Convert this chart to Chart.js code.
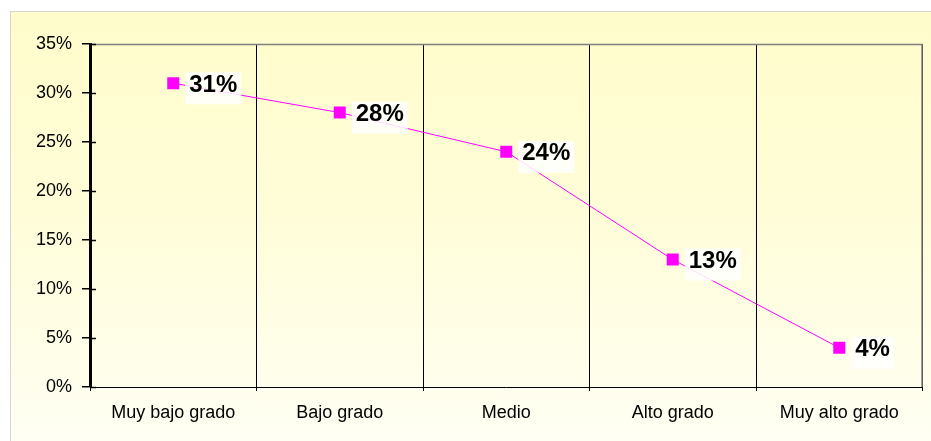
<!DOCTYPE html>
<html>
<head>
<meta charset="utf-8">
<script src="https://cdn.jsdelivr.net/npm/chart.js@4/dist/chart.umd.min.js"></script>
<style>
  html, body { margin: 0; padding: 0; background: #ffffff; overflow: hidden; }
  #panel {
    position: absolute; left: 10px; top: 11px; width: 940px; height: 450px;
    border-left: 1px solid #d6d6d6; border-top: 1px solid #d6d6d6;
    background: linear-gradient(to bottom, #fffccb 0%, #fffdd8 45%, #fffff6 100%);
  }
  #chart { position: absolute; left: 0; top: 0; }
</style>
</head>
<body>
<div id="panel"></div>
<canvas id="chart" width="931" height="441"></canvas>
<script>
// Grado de adopción: porcentaje de respuestas por categoría
const categories = ['Muy bajo grado', 'Bajo grado', 'Medio', 'Alto grado', 'Muy alto grado'];
const percentages = [31, 28, 24, 13, 4];
const yTicks = [0, 5, 10, 15, 20, 25, 30, 35];

const FONT = '"Liberation Sans", Arial, sans-serif';

// Frame on top/right of the plot area, short inner ticks on the value axis
const framePlugin = {
  id: 'frame',
  afterDraw(chart) {
    const { ctx, chartArea: a } = chart;
    const y = chart.scales.y;
    ctx.save();
    ctx.strokeStyle = '#808080';
    ctx.lineWidth = 1.5;
    ctx.beginPath();
    ctx.moveTo(a.left, a.top + 0.5);
    ctx.lineTo(a.right - 0.5, a.top + 0.5);
    ctx.lineTo(a.right - 0.5, a.bottom);
    ctx.stroke();
    ctx.strokeStyle = '#000';
    ctx.lineWidth = 1.5;
    yTicks.forEach(v => {
      const py = Math.round(y.getPixelForValue(v)) + 0.5;
      ctx.beginPath();
      ctx.moveTo(a.left, py);
      ctx.lineTo(a.left + 6, py);
      ctx.stroke();
    });
    ctx.restore();
  }
};

// Value labels to the right of each marker, on a light box
const valueLabels = {
  id: 'valueLabels',
  afterDatasetsDraw(chart) {
    const { ctx } = chart;
    const meta = chart.getDatasetMeta(0);
    ctx.save();
    ctx.font = 'bold 24px ' + FONT;
    ctx.textBaseline = 'middle';
    ctx.textAlign = 'left';
    meta.data.forEach((pt, i) => {
      const txt = percentages[i] + '%';
      const w = ctx.measureText(txt).width;
      const bx = pt.x + 12, by = pt.y - 11;
      ctx.fillStyle = 'rgba(255,255,255,0.85)';
      ctx.fillRect(bx, by, w + 8, 32);
      ctx.fillStyle = '#000';
      ctx.fillText(txt, bx + 4, pt.y + 2);
    });
    ctx.restore();
  }
};

new Chart(document.getElementById('chart'), {
  type: 'line',
  data: {
    labels: categories,
    datasets: [{
      data: percentages,
      borderColor: '#ff00ff',
      borderWidth: 1,
      backgroundColor: '#ff00ff',
      pointStyle: 'rect',
      pointRadius: 8.5,
      pointBorderWidth: 0,
      pointBackgroundColor: '#ff00ff',
      fill: false,
      tension: 0
    }]
  },
  options: {
    responsive: false,
    animation: false,
    layout: { padding: { left: 0, top: 44, right: 7, bottom: 0 } },
    plugins: { legend: { display: false }, tooltip: { enabled: false } },
    scales: {
      x: {
        type: 'category',
        offset: true,
        afterFit(s) { s.height = 54; },
        grid: {
          offset: true,
          drawOnChartArea: true,
          drawTicks: true,
          tickLength: 4,
          color: '#000',
          lineWidth: 1
        },
        border: { display: true, color: '#000', width: 1 },
        ticks: {
          color: '#000',
          padding: 11,
          font: { family: FONT, size: 18 },
          maxRotation: 0
        }
      },
      y: {
        min: 0,
        max: 35,
        afterFit(s) { s.width = 90; },
        afterBuildTicks(s) { s.ticks = yTicks.map(v => ({ value: v })); },
        grid: {
          drawOnChartArea: false,
          drawTicks: true,
          tickLength: 8,
          color: '#000',
          lineWidth: 1.5
        },
        border: { display: true, color: '#000', width: 3 },
        ticks: {
          color: '#000',
          padding: 10,
          font: { family: FONT, size: 18 },
          callback: v => v + '%'
        }
      }
    }
  },
  plugins: [framePlugin, valueLabels]
});
</script>
</body>
</html>
